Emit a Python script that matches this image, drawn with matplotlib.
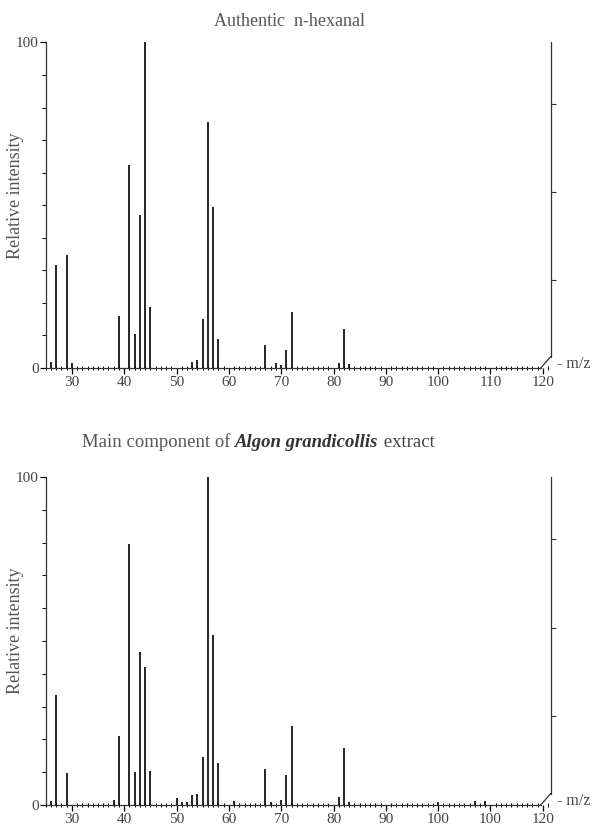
import matplotlib
matplotlib.use("Agg")
import matplotlib.pyplot as plt
from matplotlib.ticker import MultipleLocator, FixedLocator

plt.rcParams['font.family'] = ['Liberation Serif', 'DejaVu Serif']

# Authentic n-hexanal
top_mz = [26, 27, 29, 30, 39, 41, 42, 43, 44, 45, 53, 54, 55, 56, 57, 58,
          67, 69, 70, 71, 72, 81, 82, 83]
top_int = [2, 31.5, 34.6, 1.5, 16, 62.5, 10.5, 46.9, 100, 18.8, 2, 2.5, 15.2, 75.5, 49.6, 8.9,
           7.2, 1.5, 1, 5.5, 17.3, 1.4, 12, 1.3]

# Main component of Algon grandicollis extract
bot_mz = [26, 27, 29, 38, 39, 41, 42, 43, 44, 45, 50, 51, 52, 53, 54, 55, 56, 57, 58,
          61, 67, 68, 70, 71, 72, 81, 82, 83, 100, 107, 109]
bot_int = [1.2, 33.5, 9.9, 1.5, 21, 79.6, 10, 46.7, 42, 10.5, 2, 1, 1, 3.2, 3.5, 14.7, 100, 51.8, 12.7,
           1.3, 10.9, 1, 1.5, 9, 24, 2.5, 17.5, 1, 0.8, 1.2, 1.2]

top_ticks = [30, 40, 50, 60, 70, 80, 90, 100, 110, 120]
top_labels = ['30', '40', '50', '60', '70', '80', '90', '100', '110', '120']
bot_labels = ['30', '40', '50', '60', '70', '80', '90', '100', '100', '120']
right_ticks = [27, 54, 81]

txt_col = '#444444'

fig = plt.figure(figsize=(5.95, 8.3), dpi=100)

def spectrum(rect, mz, inten, labels):
    ax = fig.add_axes(rect)
    ax.vlines(mz, 0, inten, color='black', lw=1.2)
    ax.set_xlim(25, 121.5)
    ax.set_ylim(0, 100)
    ax.spines['top'].set_visible(False)
    ax.spines['bottom'].set_bounds(25, 119.6)
    ax.spines['left'].set_bounds(0, 100)
    ax.spines['right'].set_bounds(3.5, 100)
    for s in ['left', 'bottom', 'right']:
        ax.spines[s].set_linewidth(0.9)
        ax.spines[s].set_color('#333333')
    # axis break between 120 and right scale
    ax.plot([119.6, 121.5], [0, 3.5], color='#333333', lw=0.9, clip_on=False)

    ax.xaxis.set_major_locator(FixedLocator(top_ticks))
    ax.set_xticklabels(labels)
    ax.xaxis.set_minor_locator(MultipleLocator(1))
    ax.tick_params(axis='x', which='major', direction='out', length=4, width=0.9,
                   labelsize=11, labelcolor=txt_col, pad=2)
    ax.tick_params(axis='x', which='minor', direction='inout', length=2.5, width=0.7)

    ax.set_yticks([0, 100])
    ax.set_yticklabels(['0', '100'])
    ax.yaxis.set_minor_locator(MultipleLocator(10))
    ax.tick_params(axis='y', which='major', direction='out', length=4, width=0.9,
                   labelsize=11, labelcolor=txt_col, pad=1)
    ax.tick_params(axis='y', which='minor', direction='out', length=3, width=0.7)

    ax2 = ax.twinx()
    ax2.set_ylim(0, 100)
    for s in ax2.spines.values():
        s.set_visible(False)
    ax2.set_yticks(right_ticks)
    ax2.set_yticklabels([])
    ax2.tick_params(axis='y', direction='out', length=3.5, width=0.8, color='#333333')

    ax.set_ylabel('Relative intensity', fontsize=13, color='#555555', labelpad=0)
    ax.yaxis.set_label_coords(-0.042, 0.53)
    ax.text(1.012, 0.012, '- m/z', transform=ax.transAxes, fontsize=11.5, color=txt_col,
            ha='left', va='center')
    return ax

ax_top = spectrum([0.0768, 0.5566, 0.8487, 0.3922], top_mz, top_int, top_labels)
ax_bot = spectrum([0.0768, 0.0301, 0.8487, 0.3952], bot_mz, bot_int, bot_labels)

fig.text(0.486, 0.974, 'Authentic  n-hexanal', ha='center', va='center',
         fontsize=13, color='#555555')

t1 = fig.text(82 / 595, 1 - 443 / 830, 'Main component of ', ha='left', va='center',
              fontsize=13.5, color='#555555')
t2 = fig.text(0, 0, 'Algon grandicollis', fontsize=13.5, color='#333333',
              style='italic', weight='bold', ha='left', va='bottom')
t3 = fig.text(0, 0, ' extract', fontsize=13.5, color='#444444', ha='left', va='bottom')
fig.canvas.draw()
r = fig.canvas.get_renderer()
b1 = t1.get_window_extent(r)
t2.set_position(fig.transFigure.inverted().transform((b1.x1, b1.y0 + 1)))
fig.canvas.draw()
b2 = t2.get_window_extent(r)
t3.set_position(fig.transFigure.inverted().transform((b2.x1, b1.y0 + 1)))
t1.set_va('bottom')
t1.set_position(fig.transFigure.inverted().transform((b1.x0, b1.y0 + 1)))

fig.savefig('out.png', dpi=100)
